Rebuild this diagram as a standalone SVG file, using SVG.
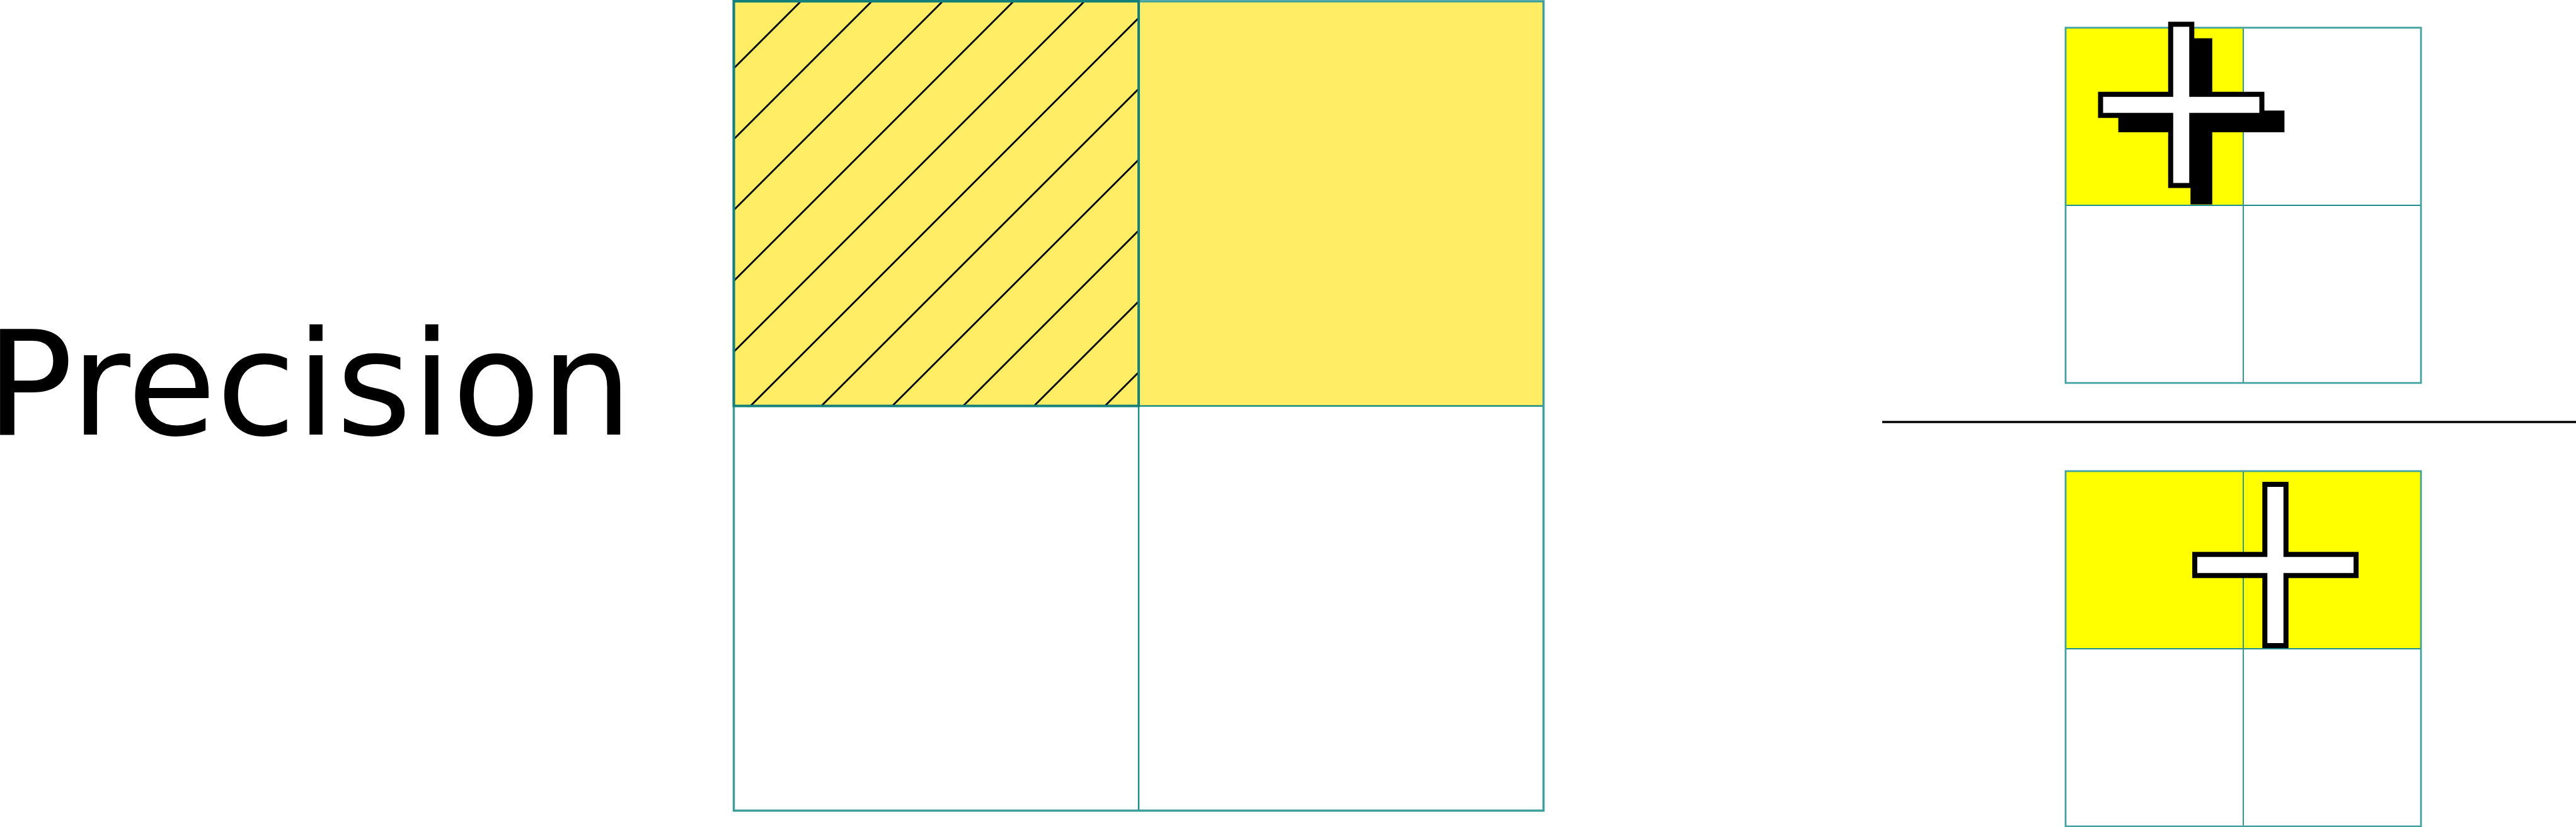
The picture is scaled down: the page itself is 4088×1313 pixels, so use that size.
<svg xmlns="http://www.w3.org/2000/svg" width="4088" height="1313" viewBox="0 0 4088 1313">
  <style>
    .bigyellow { fill: #ffed66; }
    .yellow { fill: #ffff00; }
    .hatch { stroke: #000000; stroke-width: 2.8; fill: none; }
    .outer { fill: none; stroke: #3d9f9b; stroke-width: 3.5; }
    .inner { stroke: #1a8a86; stroke-width: 2.5; fill: none; }
    .hatchborder { fill: none; stroke: #15807a; stroke-width: 4; }
    .souter { fill: none; stroke: #42a19d; stroke-width: 2.8; }
    .sinner { stroke: #1f8e8c; stroke-width: 1.8; fill: none; }
    .cross { fill: #ffffff; stroke: #000000; stroke-width: 8; stroke-linejoin: miter; }
    .shadow { fill: #000000; stroke: none; }
    .label { font-family: "DejaVu Sans", "Liberation Sans", sans-serif; font-size: 230px; fill: #000000; }
  </style>
  <defs>
    <path id="plus" d="M -16.75 -128 h 33.5 v 111.25 h 111.25 v 33.5 h -111.25 v 111.25 h -33.5 v -111.25 h -111.25 v -33.5 h 111.25 z"/>
    <clipPath id="hatchclip">
      <rect x="1164.5" y="2" width="642.5" height="642.5"/>
    </clipPath>
  </defs>

  <rect width="4088" height="1313" fill="#ffffff"/>

  <g id="label-precision">
    <text class="label" x="-22.5" y="690">Precision</text>
  </g>

  <g id="big-grid">
    <rect class="bigyellow" x="1807" y="2" width="642.5" height="642.5"/>
    <rect class="bigyellow" x="1164.5" y="2" width="642.5" height="642.5"/>
    <g clip-path="url(#hatchclip)">
      <line class="hatch" x1="573" y1="700" x2="1283" y2="-10"/>
      <line class="hatch" x1="685.5" y1="700" x2="1395.5" y2="-10"/>
      <line class="hatch" x1="798" y1="700" x2="1508" y2="-10"/>
      <line class="hatch" x1="910.5" y1="700" x2="1620.5" y2="-10"/>
      <line class="hatch" x1="1023" y1="700" x2="1733" y2="-10"/>
      <line class="hatch" x1="1135.5" y1="700" x2="1845.5" y2="-10"/>
      <line class="hatch" x1="1248" y1="700" x2="1958" y2="-10"/>
      <line class="hatch" x1="1360.5" y1="700" x2="2070.5" y2="-10"/>
      <line class="hatch" x1="1473" y1="700" x2="2183" y2="-10"/>
      <line class="hatch" x1="1585.5" y1="700" x2="2295.5" y2="-10"/>
      <line class="hatch" x1="1698" y1="700" x2="2408" y2="-10"/>
    </g>
    <line class="inner" x1="1807" y1="2" x2="1807" y2="1287"/>
    <line class="inner" x1="1164.5" y1="644.5" x2="2449.5" y2="644.5"/>
    <rect class="outer" x="1164.5" y="2" width="1285" height="1285"/>
    <rect class="hatchborder" x="1164.5" y="2" width="642.5" height="642.5"/>
  </g>

  <g id="top-grid">
    <rect class="yellow" x="3278" y="44" width="282" height="282"/>
    <line class="sinner" x1="3560" y1="44" x2="3560" y2="608"/>
    <line class="sinner" x1="3278" y1="326" x2="3842" y2="326"/>
    <rect class="souter" x="3278" y="44" width="564" height="564"/>
    <use href="#plus" class="shadow" transform="translate(3493.5 192.7) scale(1.03)"/>
    <use href="#plus" class="cross" transform="translate(3461.5 166.4)"/>
  </g>

  <g id="fraction-bar">
    <line x1="2987" y1="670" x2="4088" y2="670" stroke="#000000" stroke-width="3.5"/>
  </g>

  <g id="bottom-grid">
    <rect class="yellow" x="3278" y="748" width="564" height="282"/>
    <line class="sinner" x1="3560" y1="748" x2="3560" y2="1312"/>
    <line class="sinner" x1="3278" y1="1030" x2="3842" y2="1030"/>
    <rect class="souter" x="3278" y="748" width="564" height="564"/>
    <use href="#plus" class="cross" transform="translate(3611 897)"/>
  </g>
</svg>
